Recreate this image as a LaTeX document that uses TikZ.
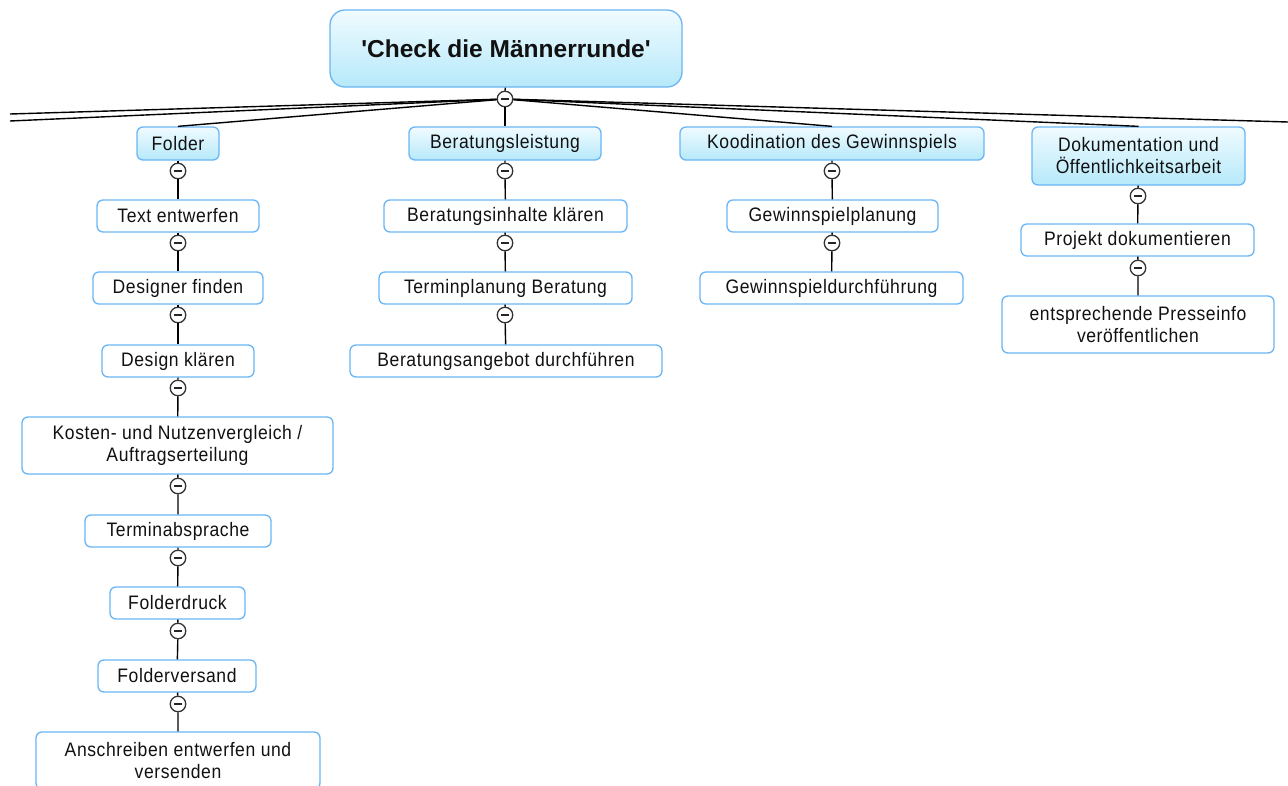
\documentclass[tikz,border=0pt]{standalone}
\usepackage{fontspec}
\setmainfont{Liberation Sans}
\newfontfamily\boxfont{Liberation Sans}[FakeStretch=0.9,LetterSpace=3]
\newfontfamily\rootfont{Liberation Sans}
\definecolor{bordblue}{HTML}{6AB6F4}
\definecolor{topfill}{HTML}{F0FBFF}
\definecolor{botfill}{HTML}{B6E9FA}
\definecolor{txt}{HTML}{111111}
\begin{document}
\begin{tikzpicture}[x=1pt,y=-1pt,
  base/.style={draw=bordblue, line width=1.3pt, rounded corners=6pt, text=txt,
    inner sep=0pt, minimum height=32pt, align=center,
    font=\boxfont\fontsize{19.5}{22}\selectfont},
  leaf/.style={base, fill=white},
  mainbox/.style={base, top color=topfill, bottom color=botfill},
  rootbox/.style={draw=bordblue, line width=1.3pt, rounded corners=15pt,
    top color=topfill, bottom color=botfill, text=txt, inner sep=0pt,
    font=\rootfont\bfseries\fontsize{24.5}{28}\selectfont},
  toggle/.style={circle, draw=black!80, fill=white, line width=1.3pt,
    minimum size=15.5pt, inner sep=0pt,
    path picture={\draw[line width=1.4pt, black!85]
      ([xshift=-3.8pt]path picture bounding box.center) --
      ([xshift=3.8pt]path picture bounding box.center);}},
  link/.style={draw=black, line width=1.4pt}
]
\useasboundingbox (0,0) rectangle (1288,785);
\clip (0,0) rectangle (1288,785);

% root
\node[rootbox, minimum width=352pt, minimum height=77pt] (root) at (506,48.5) {'Check die Männerrunde'};

% level 1
\node[mainbox, minimum width=82pt, minimum height=33pt] (F) at (178,143.5) {Folder};
\node[mainbox, minimum width=192pt, minimum height=33pt] (B) at (505,143.5) {Beratungsleistung};
\node[mainbox, minimum width=304pt, minimum height=33pt] (K) at (832,143.5) {Koodination des Gewinnspiels};
\node[mainbox, minimum width=213pt, minimum height=58pt] (D) at (1138.5,156) {Dokumentation und\\Öffentlichkeitsarbeit};

% Folder branch
\node[leaf, minimum width=162pt] (f1) at (178,216) {Text entwerfen};
\node[leaf, minimum width=170pt] (f2) at (178,288) {Designer finden};
\node[leaf, minimum width=152pt] (f3) at (178,361) {Design klären};
\node[leaf, minimum width=311pt, minimum height=57pt] (f4) at (177.5,445.5) {Kosten- und Nutzenvergleich /\\Auftragserteilung};
\node[leaf, minimum width=186pt] (f5) at (178,531) {Terminabsprache};
\node[leaf, minimum width=135pt] (f6) at (177.5,603) {Folderdruck};
\node[leaf, minimum width=158pt] (f7) at (177,676) {Folderversand};
\node[leaf, minimum width=284pt, minimum height=57pt] (f8) at (178,760.5) {Anschreiben entwerfen und\\versenden};

% Beratung branch
\node[leaf, minimum width=243pt] (b1) at (505.5,216) {Beratungsinhalte klären};
\node[leaf, minimum width=253pt] (b2) at (505.5,288) {Terminplanung Beratung};
\node[leaf, minimum width=312pt] (b3) at (506,361) {Beratungsangebot durchführen};

% Koodination branch
\node[leaf, minimum width=211pt] (k1) at (832.5,216) {Gewinnspielplanung};
\node[leaf, minimum width=263pt] (k2) at (831.5,288) {Gewinnspieldurchführung};

% Dokumentation branch
\node[leaf, minimum width=233pt] (d1) at (1137.5,240) {Projekt dokumentieren};
\node[leaf, minimum width=272pt, minimum height=57pt] (d2) at (1138,324.5) {entsprechende Presseinfo\\veröffentlichen};

% toggles
\node[toggle] (c0) at (505,99) {};
\node[toggle] (cF) at (178,171) {};
\node[toggle] (cB) at (505,171) {};
\node[toggle] (cK) at (832,171) {};
\node[toggle] (cD) at (1138,196) {};
\node[toggle] (cf1) at (178,243) {};
\node[toggle] (cf2) at (178,315) {};
\node[toggle] (cf3) at (178,388) {};
\node[toggle] (cf4) at (178,486) {};
\node[toggle] (cf5) at (178,558) {};
\node[toggle] (cf6) at (178,631) {};
\node[toggle] (cf7) at (178,704) {};
\node[toggle] (cb1) at (505,243) {};
\node[toggle] (cb2) at (505,315) {};
\node[toggle] (ck1) at (832,243) {};
\node[toggle] (cd1) at (1138,268) {};

% off-picture branch ends
\coordinate (offA) at (10,114);
\coordinate (offB) at (10,121);
\coordinate (offC) at (1288,122);

% root connectors
\draw[link] (root) -- (c0);
\draw[link] (c0) -- (F.north);
\draw[link] (c0) -- (B.north);
\draw[link] (c0) -- (K.north);
\draw[link] (c0) -- (D.north);
\draw[link] (c0) -- (offA);
\draw[link] (c0) -- (offB);
\draw[link] (c0) -- (offC);

% branch connectors
\draw[link] (F) -- (cF) -- (f1);
\draw[link] (f1) -- (cf1) -- (f2);
\draw[link] (f2) -- (cf2) -- (f3);
\draw[link] (f3) -- (cf3) -- (f4);
\draw[link] (f4) -- (cf4) -- (f5);
\draw[link] (f5) -- (cf5) -- (f6);
\draw[link] (f6) -- (cf6) -- (f7);
\draw[link] (f7) -- (cf7) -- (f8);
\draw[link] (B) -- (cB) -- (b1);
\draw[link] (b1) -- (cb1) -- (b2);
\draw[link] (b2) -- (cb2) -- (b3);
\draw[link] (K) -- (cK) -- (k1);
\draw[link] (k1) -- (ck1) -- (k2);
\draw[link] (D) -- (cD) -- (d1);
\draw[link] (d1) -- (cd1) -- (d2);
\end{tikzpicture}
\end{document}
